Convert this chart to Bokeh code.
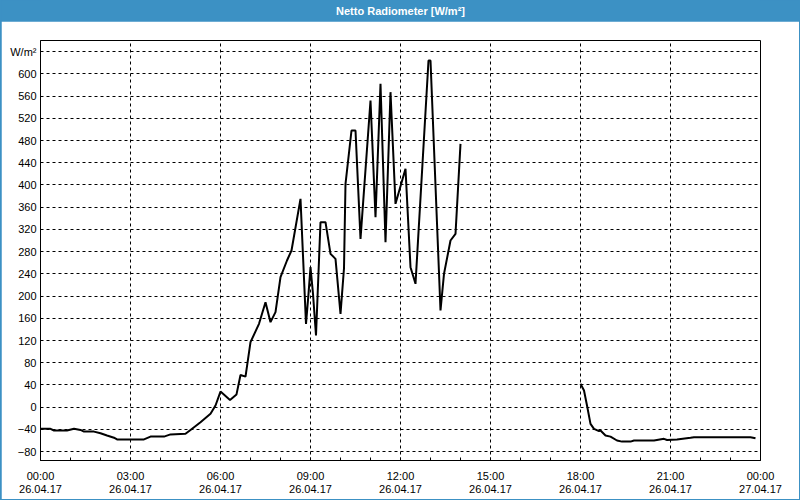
import pandas as pd
from bokeh.plotting import figure
from bokeh.layouts import column
from bokeh.models import Range1d, FixedTicker, DatetimeTickFormatter
from bokeh.core.properties import value
from bokeh.embed import file_html
from bokeh.resources import INLINE

TITLE = "Netto Radiometer [W/m²]"
DATE = "2017-04-26"
UNIT_LABEL = "W/m²"

seg1_times = ["00:00", "00:20", "00:27", "00:53", "01:07", "01:20", "01:27", "01:47", "02:00", "02:13",
              "02:27", "02:33", "03:27", "03:40", "04:07", "04:20", "04:50", "05:00", "05:20", "05:40",
              "05:50", "06:00", "06:19", "06:32", "06:40", "06:50", "07:00", "07:17", "07:30", "07:40",
              "07:50", "08:00", "08:13", "08:22", "08:40", "08:51", "08:56", "09:00", "09:05", "09:11",
              "09:20", "09:30", "09:40", "09:50", "10:00", "10:07", "10:10", "10:22", "10:30", "10:40",
              "11:00", "11:10", "11:20", "11:30", "11:40", "11:50", "12:10", "12:20", "12:30", "12:56",
              "13:00", "13:20", "13:27", "13:40", "13:50", "14:00"]
seg1_values = [-39, -39, -42, -42, -39, -41, -44, -44, -47, -51,
               -55, -58, -58, -53, -53, -49, -48, -41, -27, -12,
               3, 28, 13, 23, 58, 55, 117, 150, 189, 153,
               171, 234, 264, 282, 375, 150, 204, 252, 204, 129,
               333, 333, 276, 267, 168, 250, 402, 498, 498, 303,
               552, 342, 582, 297, 567, 366, 429, 252, 222, 624,
               624, 174, 240, 300, 312, 474]

seg2_times = ["18:00", "18:07", "18:13", "18:20", "18:27", "18:37", "18:40", "18:50", "19:00", "19:13",
              "19:23", "19:40", "19:47", "20:27", "20:47", "20:53", "21:13", "21:40", "21:47", "23:40",
              "23:50"]
seg2_values = [42, 30, 3, -30, -39, -43, -42, -51, -53, -60,
               -62, -62, -60, -60, -57, -59, -58, -55, -54, -54,
               -56]

y_ticks = [-80, -40, 0, 40, 80, 120, 160, 200, 240, 280, 320, 360, 400, 440, 480, 520, 560, 600, 640]
x_tick_hours = [0, 3, 6, 9, 12, 15, 18, 21, 24]

BLUE = "#3c91c4"
FONT = "Liberation Sans"

base = pd.Timestamp(DATE)
epoch = pd.Timestamp("1970-01-01")

def to_dt(times):
    return [base + pd.Timedelta(hours=int(t[:2]), minutes=int(t[3:])) for t in times]

def ms(ts):
    return (ts - epoch) / pd.Timedelta(milliseconds=1)

top = figure(width=798, height=21, x_range=(0, 1), y_range=(0, 1), toolbar_location=None,
             output_backend="svg", min_border=0, x_axis_location=None, y_axis_location=None)
top.grid.visible = False
top.outline_line_color = None
top.background_fill_color = BLUE
top.border_fill_color = BLUE
top.text(x=[0.5], y=[0.5], text=[TITLE], text_color="white", text_font=value(FONT),
         text_font_style="bold", text_font_size="11px", text_align="center", text_baseline="middle")

p = figure(width=798, height=478, x_axis_type="datetime", toolbar_location=None, output_backend="svg",
           x_range=Range1d(base, base + pd.Timedelta(hours=24)), y_range=Range1d(-96, 660),
           min_border_left=39, min_border_right=39, min_border_top=19, min_border_bottom=39)
p.background_fill_color = "white"
p.border_fill_color = "white"
p.outline_line_color = "black"
p.outline_line_width = 1

xt = FixedTicker(ticks=[ms(base + pd.Timedelta(hours=h)) for h in x_tick_hours],
                 minor_ticks=[ms(base + pd.Timedelta(hours=h)) for h in range(25)])
p.xaxis.ticker = xt
p.xaxis.formatter = DatetimeTickFormatter(hours="%H:%M\n%d.%m.%y", days="%H:%M\n%d.%m.%y",
                                          hourmin="%H:%M\n%d.%m.%y")
p.yaxis.ticker = FixedTicker(ticks=y_ticks)
p.yaxis.major_label_overrides = {640: UNIT_LABEL}

for ax in [p.xaxis[0], p.yaxis[0]]:
    ax.axis_line_color = "black"
    ax.major_tick_in = 0
    ax.major_tick_out = 0
    ax.major_label_text_font = FONT
    ax.major_label_text_font_size = "11px"
    ax.major_label_text_color = "black"
    ax.major_label_standoff = 4
p.xaxis.major_label_standoff = 9
p.xaxis.major_label_text_line_height = 1.1
p.xaxis.minor_tick_in = 3
p.xaxis.minor_tick_out = 0
p.xaxis.minor_tick_line_color = "black"
p.yaxis.minor_tick_line_color = None

for g in [p.xgrid[0], p.ygrid[0]]:
    g.grid_line_color = "black"
    g.grid_line_dash = "3 3"
    g.grid_line_width = 1
    g.grid_line_alpha = 1.0

p.line(to_dt(seg1_times), seg1_values, line_color="black", line_width=2)
p.line(to_dt(seg2_times), seg2_values, line_color="black", line_width=2)

layout = column(top, p, styles={"background-color": BLUE, "padding": "0px 1px 1px 1px"})

open("out.html", "w").write(file_html(layout, INLINE))
